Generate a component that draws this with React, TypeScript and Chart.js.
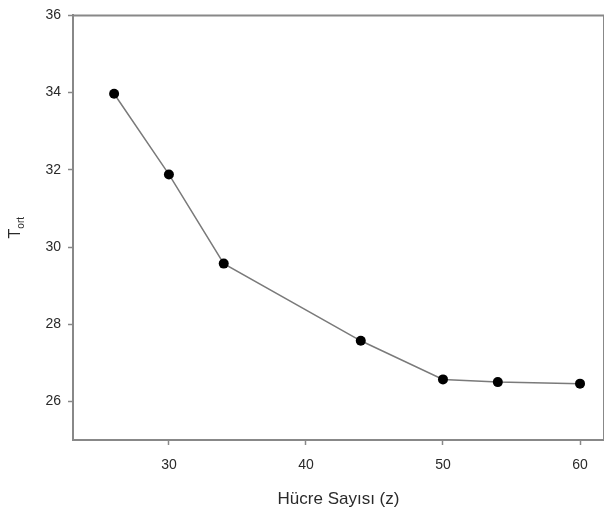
import React, { useEffect, useRef } from "react";
import { Chart, registerables } from "chart.js";

Chart.register(...registerables);

const xValues = [26, 30, 34, 44, 50, 54, 60];
const yValues = [33.97, 31.88, 29.57, 27.57, 26.57, 26.5, 26.46];
const xTicks = [30, 40, 50, 60];
const yTicks = [26, 28, 30, 32, 34, 36];
const xTitle = "Hücre Sayısı (z)";
const yTitleMain = "T";
const yTitleSub = "ort";

const AXIS_COLOR = "#888888";
const TEXT_COLOR = "#2a2a2a";
const FONT = "'Liberation Sans', Arial, sans-serif";

const framePlugin = {
  id: "frame",
  afterDraw(chart: any) {
    const { ctx, chartArea } = chart;
    ctx.save();
    ctx.strokeStyle = AXIS_COLOR;
    ctx.lineWidth = 2;
    ctx.beginPath();
    ctx.moveTo(chartArea.left, chartArea.top);
    ctx.lineTo(chartArea.right, chartArea.top);
    ctx.moveTo(chartArea.right, chartArea.top);
    ctx.lineTo(chartArea.right, chartArea.bottom);
    ctx.stroke();
    // y title with subscript
    ctx.translate(15, (chartArea.top + chartArea.bottom) / 2);
    ctx.rotate(-Math.PI / 2);
    ctx.fillStyle = TEXT_COLOR;
    ctx.font = `16px ${FONT}`;
    ctx.textBaseline = "alphabetic";
    const wT = ctx.measureText(yTitleMain).width;
    ctx.font = `10px ${FONT}`;
    const wS = ctx.measureText(yTitleSub).width;
    const total = wT + wS;
    ctx.font = `16px ${FONT}`;
    ctx.fillText(yTitleMain, -total / 2, 5);
    ctx.font = `10px ${FONT}`;
    ctx.fillText(yTitleSub, -total / 2 + wT, 9);
    ctx.restore();
  },
};

export default function App() {
  const ref = useRef<HTMLCanvasElement>(null);
  useEffect(() => {
    document.body.style.margin = "0";
    const chart = new Chart(ref.current as HTMLCanvasElement, {
      type: "scatter",
      data: {
        datasets: [
          {
            data: xValues.map((x, i) => ({ x, y: yValues[i] })),
            showLine: true,
            borderColor: "#7a7a7a",
            borderWidth: 1.5,
            pointRadius: 5,
            pointBackgroundColor: "#000000",
            pointBorderColor: "#000000",
            pointBorderWidth: 0,
          },
        ],
      },
      options: {
        animation: false,
        responsive: false,
        events: [],
        layout: { padding: { top: 12, right: 0, left: 0, bottom: 0 } },
        plugins: { legend: { display: false }, tooltip: { enabled: false } },
        scales: {
          x: {
            type: "linear",
            min: 23,
            max: 61.75,
            afterBuildTicks: (s: any) => {
              s.ticks = xTicks.map((v) => ({ value: v }));
            },
            afterFit: (s: any) => {
              s.height = 77;
            },
            grid: {
              drawOnChartArea: false,
              drawTicks: true,
              tickLength: 5,
              color: AXIS_COLOR,
              tickWidth: 1.5,
            },
            border: { display: true, color: AXIS_COLOR, width: 2 },
            ticks: { color: TEXT_COLOR, font: { family: FONT, size: 14 }, padding: 12 },
            title: {
              display: true,
              text: xTitle,
              color: TEXT_COLOR,
              font: { family: FONT, size: 17 },
              padding: { top: 2, bottom: 7 },
            },
          },
          y: {
            type: "linear",
            min: 25,
            max: 36,
            afterBuildTicks: (s: any) => {
              s.ticks = yTicks.map((v) => ({ value: v }));
            },
            afterFit: (s: any) => {
              s.width = 73;
            },
            grid: {
              drawOnChartArea: false,
              drawTicks: true,
              tickLength: 5,
              color: AXIS_COLOR,
              tickWidth: 1.5,
            },
            border: { display: true, color: AXIS_COLOR, width: 2 },
            ticks: { color: TEXT_COLOR, font: { family: FONT, size: 14 }, padding: 7 },
          },
        },
      },
      plugins: [framePlugin],
    } as any);
    return () => chart.destroy();
  }, []);
  return (
    <div style={{ position: "absolute", left: 0, top: 0, width: 604, height: 517, overflow: "hidden", background: "#fff" }}>
      <canvas ref={ref} width={609} height={517} />
    </div>
  );
}
